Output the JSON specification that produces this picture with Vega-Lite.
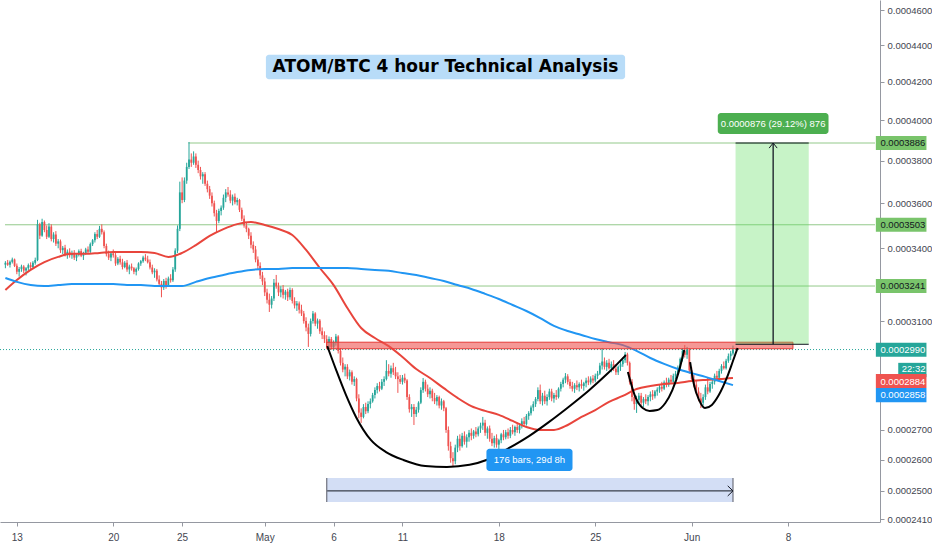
{
"$schema": "https://vega.github.io/schema/vega-lite/v6.json",
"width": 880,
"height": 522,
"autosize": {"type": "none"},
"padding": {"left": 0, "top": 0, "right": 52, "bottom": 28},
"background": "white",
"config": {"view": {"stroke": null}, "font": "Liberation Sans"},
"data": {"values": [
{"t":"2020-04-12T04:00Z","o":0.0003330,"h":0.0003345,"l":0.0003315,"c":0.0003338},
{"t":"2020-04-12T08:00Z","o":0.0003338,"h":0.0003350,"l":0.0003325,"c":0.0003330},
{"t":"2020-04-12T12:00Z","o":0.0003330,"h":0.0003348,"l":0.0003318,"c":0.0003342},
{"t":"2020-04-12T16:00Z","o":0.0003342,"h":0.0003360,"l":0.0003335,"c":0.0003352},
{"t":"2020-04-12T20:00Z","o":0.0003352,"h":0.0003356,"l":0.0003320,"c":0.0003325},
{"t":"2020-04-13T00:00Z","o":0.0003325,"h":0.0003335,"l":0.0003290,"c":0.0003300},
{"t":"2020-04-13T04:00Z","o":0.0003300,"h":0.0003320,"l":0.0003280,"c":0.0003312},
{"t":"2020-04-13T08:00Z","o":0.0003312,"h":0.0003330,"l":0.0003300,"c":0.0003322},
{"t":"2020-04-13T12:00Z","o":0.0003322,"h":0.0003328,"l":0.0003295,"c":0.0003305},
{"t":"2020-04-13T16:00Z","o":0.0003305,"h":0.0003320,"l":0.0003285,"c":0.0003315},
{"t":"2020-04-13T20:00Z","o":0.0003315,"h":0.0003335,"l":0.0003305,"c":0.0003328},
{"t":"2020-04-14T00:00Z","o":0.0003328,"h":0.0003340,"l":0.0003310,"c":0.0003320},
{"t":"2020-04-14T04:00Z","o":0.0003320,"h":0.0003345,"l":0.0003312,"c":0.0003338},
{"t":"2020-04-14T08:00Z","o":0.0003338,"h":0.0003360,"l":0.0003330,"c":0.0003350},
{"t":"2020-04-14T12:00Z","o":0.0003350,"h":0.0003525,"l":0.0003345,"c":0.0003505},
{"t":"2020-04-14T16:00Z","o":0.0003505,"h":0.0003512,"l":0.0003440,"c":0.0003455},
{"t":"2020-04-14T20:00Z","o":0.0003455,"h":0.0003530,"l":0.0003450,"c":0.0003515},
{"t":"2020-04-15T00:00Z","o":0.0003515,"h":0.0003522,"l":0.0003470,"c":0.0003480},
{"t":"2020-04-15T04:00Z","o":0.0003480,"h":0.0003500,"l":0.0003440,"c":0.0003450},
{"t":"2020-04-15T08:00Z","o":0.0003450,"h":0.0003510,"l":0.0003445,"c":0.0003495},
{"t":"2020-04-15T12:00Z","o":0.0003495,"h":0.0003505,"l":0.0003430,"c":0.0003440},
{"t":"2020-04-15T16:00Z","o":0.0003440,"h":0.0003470,"l":0.0003425,"c":0.0003460},
{"t":"2020-04-15T20:00Z","o":0.0003460,"h":0.0003475,"l":0.0003410,"c":0.0003420},
{"t":"2020-04-16T00:00Z","o":0.0003420,"h":0.0003440,"l":0.0003400,"c":0.0003430},
{"t":"2020-04-16T04:00Z","o":0.0003430,"h":0.0003438,"l":0.0003380,"c":0.0003392},
{"t":"2020-04-16T08:00Z","o":0.0003392,"h":0.0003410,"l":0.0003375,"c":0.0003402},
{"t":"2020-04-16T12:00Z","o":0.0003402,"h":0.0003415,"l":0.0003365,"c":0.0003375},
{"t":"2020-04-16T16:00Z","o":0.0003375,"h":0.0003395,"l":0.0003355,"c":0.0003385},
{"t":"2020-04-16T20:00Z","o":0.0003385,"h":0.0003400,"l":0.0003360,"c":0.0003370},
{"t":"2020-04-17T00:00Z","o":0.0003370,"h":0.0003390,"l":0.0003355,"c":0.0003380},
{"t":"2020-04-17T04:00Z","o":0.0003380,"h":0.0003392,"l":0.0003350,"c":0.0003360},
{"t":"2020-04-17T08:00Z","o":0.0003360,"h":0.0003378,"l":0.0003345,"c":0.0003372},
{"t":"2020-04-17T12:00Z","o":0.0003372,"h":0.0003395,"l":0.0003365,"c":0.0003388},
{"t":"2020-04-17T16:00Z","o":0.0003388,"h":0.0003398,"l":0.0003362,"c":0.0003368},
{"t":"2020-04-17T20:00Z","o":0.0003368,"h":0.0003385,"l":0.0003350,"c":0.0003380},
{"t":"2020-04-18T00:00Z","o":0.0003380,"h":0.0003402,"l":0.0003372,"c":0.0003395},
{"t":"2020-04-18T04:00Z","o":0.0003395,"h":0.0003408,"l":0.0003375,"c":0.0003385},
{"t":"2020-04-18T08:00Z","o":0.0003385,"h":0.0003425,"l":0.0003380,"c":0.0003418},
{"t":"2020-04-18T12:00Z","o":0.0003418,"h":0.0003440,"l":0.0003410,"c":0.0003435},
{"t":"2020-04-18T16:00Z","o":0.0003435,"h":0.0003470,"l":0.0003425,"c":0.0003462},
{"t":"2020-04-18T20:00Z","o":0.0003462,"h":0.0003480,"l":0.0003440,"c":0.0003450},
{"t":"2020-04-19T00:00Z","o":0.0003450,"h":0.0003498,"l":0.0003445,"c":0.0003485},
{"t":"2020-04-19T04:00Z","o":0.0003485,"h":0.0003505,"l":0.0003460,"c":0.0003470},
{"t":"2020-04-19T08:00Z","o":0.0003470,"h":0.0003478,"l":0.0003400,"c":0.0003410},
{"t":"2020-04-19T12:00Z","o":0.0003410,"h":0.0003420,"l":0.0003365,"c":0.0003375},
{"t":"2020-04-19T16:00Z","o":0.0003375,"h":0.0003390,"l":0.0003350,"c":0.0003360},
{"t":"2020-04-19T20:00Z","o":0.0003360,"h":0.0003385,"l":0.0003345,"c":0.0003378},
{"t":"2020-04-20T00:00Z","o":0.0003378,"h":0.0003395,"l":0.0003360,"c":0.0003370},
{"t":"2020-04-20T04:00Z","o":0.0003370,"h":0.0003380,"l":0.0003325,"c":0.0003335},
{"t":"2020-04-20T08:00Z","o":0.0003335,"h":0.0003362,"l":0.0003328,"c":0.0003355},
{"t":"2020-04-20T12:00Z","o":0.0003355,"h":0.0003368,"l":0.0003330,"c":0.0003340},
{"t":"2020-04-20T16:00Z","o":0.0003340,"h":0.0003355,"l":0.0003310,"c":0.0003320},
{"t":"2020-04-20T20:00Z","o":0.0003320,"h":0.0003345,"l":0.0003315,"c":0.0003338},
{"t":"2020-04-21T00:00Z","o":0.0003338,"h":0.0003350,"l":0.0003300,"c":0.0003310},
{"t":"2020-04-21T04:00Z","o":0.0003310,"h":0.0003330,"l":0.0003290,"c":0.0003322},
{"t":"2020-04-21T08:00Z","o":0.0003322,"h":0.0003335,"l":0.0003305,"c":0.0003315},
{"t":"2020-04-21T12:00Z","o":0.0003315,"h":0.0003320,"l":0.0003290,"c":0.0003300},
{"t":"2020-04-21T16:00Z","o":0.0003300,"h":0.0003318,"l":0.0003285,"c":0.0003312},
{"t":"2020-04-21T20:00Z","o":0.0003312,"h":0.0003340,"l":0.0003305,"c":0.0003335},
{"t":"2020-04-22T00:00Z","o":0.0003335,"h":0.0003350,"l":0.0003325,"c":0.0003345},
{"t":"2020-04-22T04:00Z","o":0.0003345,"h":0.0003368,"l":0.0003338,"c":0.0003360},
{"t":"2020-04-22T08:00Z","o":0.0003360,"h":0.0003375,"l":0.0003345,"c":0.0003352},
{"t":"2020-04-22T12:00Z","o":0.0003352,"h":0.0003368,"l":0.0003335,"c":0.0003340},
{"t":"2020-04-22T16:00Z","o":0.0003340,"h":0.0003352,"l":0.0003310,"c":0.0003318},
{"t":"2020-04-22T20:00Z","o":0.0003318,"h":0.0003330,"l":0.0003290,"c":0.0003298},
{"t":"2020-04-23T00:00Z","o":0.0003298,"h":0.0003315,"l":0.0003275,"c":0.0003305},
{"t":"2020-04-23T04:00Z","o":0.0003305,"h":0.0003312,"l":0.0003260,"c":0.0003268},
{"t":"2020-04-23T08:00Z","o":0.0003268,"h":0.0003285,"l":0.0003240,"c":0.0003250},
{"t":"2020-04-23T12:00Z","o":0.0003250,"h":0.0003262,"l":0.0003195,"c":0.0003235},
{"t":"2020-04-23T16:00Z","o":0.0003235,"h":0.0003270,"l":0.0003225,"c":0.0003262},
{"t":"2020-04-23T20:00Z","o":0.0003262,"h":0.0003275,"l":0.0003230,"c":0.0003245},
{"t":"2020-04-24T00:00Z","o":0.0003245,"h":0.0003280,"l":0.0003238,"c":0.0003272},
{"t":"2020-04-24T04:00Z","o":0.0003272,"h":0.0003290,"l":0.0003255,"c":0.0003265},
{"t":"2020-04-24T08:00Z","o":0.0003265,"h":0.0003320,"l":0.0003258,"c":0.0003310},
{"t":"2020-04-24T12:00Z","o":0.0003310,"h":0.0003400,"l":0.0003300,"c":0.0003390},
{"t":"2020-04-24T16:00Z","o":0.0003390,"h":0.0003500,"l":0.0003380,"c":0.0003485},
{"t":"2020-04-24T20:00Z","o":0.0003485,"h":0.0003700,"l":0.0003475,"c":0.0003650},
{"t":"2020-04-25T00:00Z","o":0.0003650,"h":0.0003720,"l":0.0003600,"c":0.0003615},
{"t":"2020-04-25T04:00Z","o":0.0003615,"h":0.0003720,"l":0.0003605,"c":0.0003705},
{"t":"2020-04-25T08:00Z","o":0.0003705,"h":0.0003790,"l":0.0003690,"c":0.0003770},
{"t":"2020-04-25T12:00Z","o":0.0003770,"h":0.0003891,"l":0.0003760,"c":0.0003805},
{"t":"2020-04-25T16:00Z","o":0.0003805,"h":0.0003835,"l":0.0003770,"c":0.0003790},
{"t":"2020-04-25T20:00Z","o":0.0003790,"h":0.0003845,"l":0.0003780,"c":0.0003820},
{"t":"2020-04-26T00:00Z","o":0.0003820,"h":0.0003835,"l":0.0003765,"c":0.0003780},
{"t":"2020-04-26T04:00Z","o":0.0003780,"h":0.0003800,"l":0.0003740,"c":0.0003755},
{"t":"2020-04-26T08:00Z","o":0.0003755,"h":0.0003770,"l":0.0003710,"c":0.0003725},
{"t":"2020-04-26T12:00Z","o":0.0003725,"h":0.0003745,"l":0.0003690,"c":0.0003735},
{"t":"2020-04-26T16:00Z","o":0.0003735,"h":0.0003745,"l":0.0003680,"c":0.0003690},
{"t":"2020-04-26T20:00Z","o":0.0003690,"h":0.0003705,"l":0.0003650,"c":0.0003665},
{"t":"2020-04-27T00:00Z","o":0.0003665,"h":0.0003680,"l":0.0003620,"c":0.0003635},
{"t":"2020-04-27T04:00Z","o":0.0003635,"h":0.0003650,"l":0.0003585,"c":0.0003600},
{"t":"2020-04-27T08:00Z","o":0.0003600,"h":0.0003612,"l":0.0003540,"c":0.0003555},
{"t":"2020-04-27T12:00Z","o":0.0003555,"h":0.0003570,"l":0.0003470,"c":0.0003520},
{"t":"2020-04-27T16:00Z","o":0.0003520,"h":0.0003575,"l":0.0003510,"c":0.0003565},
{"t":"2020-04-27T20:00Z","o":0.0003565,"h":0.0003590,"l":0.0003545,"c":0.0003580},
{"t":"2020-04-28T00:00Z","o":0.0003580,"h":0.0003640,"l":0.0003570,"c":0.0003625},
{"t":"2020-04-28T04:00Z","o":0.0003625,"h":0.0003665,"l":0.0003605,"c":0.0003650},
{"t":"2020-04-28T08:00Z","o":0.0003650,"h":0.0003675,"l":0.0003630,"c":0.0003640},
{"t":"2020-04-28T12:00Z","o":0.0003640,"h":0.0003660,"l":0.0003600,"c":0.0003612},
{"t":"2020-04-28T16:00Z","o":0.0003612,"h":0.0003640,"l":0.0003590,"c":0.0003630},
{"t":"2020-04-28T20:00Z","o":0.0003630,"h":0.0003645,"l":0.0003595,"c":0.0003605},
{"t":"2020-04-29T00:00Z","o":0.0003605,"h":0.0003625,"l":0.0003590,"c":0.0003615},
{"t":"2020-04-29T04:00Z","o":0.0003615,"h":0.0003620,"l":0.0003560,"c":0.0003570},
{"t":"2020-04-29T08:00Z","o":0.0003570,"h":0.0003580,"l":0.0003520,"c":0.0003530},
{"t":"2020-04-29T12:00Z","o":0.0003530,"h":0.0003545,"l":0.0003490,"c":0.0003500},
{"t":"2020-04-29T16:00Z","o":0.0003500,"h":0.0003515,"l":0.0003470,"c":0.0003485},
{"t":"2020-04-29T20:00Z","o":0.0003485,"h":0.0003490,"l":0.0003440,"c":0.0003455},
{"t":"2020-04-30T00:00Z","o":0.0003455,"h":0.0003470,"l":0.0003400,"c":0.0003415},
{"t":"2020-04-30T04:00Z","o":0.0003415,"h":0.0003430,"l":0.0003380,"c":0.0003395},
{"t":"2020-04-30T08:00Z","o":0.0003395,"h":0.0003410,"l":0.0003340,"c":0.0003352},
{"t":"2020-04-30T12:00Z","o":0.0003352,"h":0.0003365,"l":0.0003310,"c":0.0003325},
{"t":"2020-04-30T16:00Z","o":0.0003325,"h":0.0003340,"l":0.0003270,"c":0.0003285},
{"t":"2020-04-30T20:00Z","o":0.0003285,"h":0.0003300,"l":0.0003245,"c":0.0003260},
{"t":"2020-05-01T00:00Z","o":0.0003260,"h":0.0003275,"l":0.0003200,"c":0.0003215},
{"t":"2020-05-01T04:00Z","o":0.0003215,"h":0.0003230,"l":0.0003170,"c":0.0003185},
{"t":"2020-05-01T08:00Z","o":0.0003185,"h":0.0003210,"l":0.0003136,"c":0.0003165},
{"t":"2020-05-01T12:00Z","o":0.0003165,"h":0.0003200,"l":0.0003150,"c":0.0003190},
{"t":"2020-05-01T16:00Z","o":0.0003190,"h":0.0003270,"l":0.0003180,"c":0.0003255},
{"t":"2020-05-01T20:00Z","o":0.0003255,"h":0.0003287,"l":0.0003230,"c":0.0003240},
{"t":"2020-05-02T00:00Z","o":0.0003240,"h":0.0003255,"l":0.0003200,"c":0.0003215},
{"t":"2020-05-02T04:00Z","o":0.0003215,"h":0.0003240,"l":0.0003195,"c":0.0003228},
{"t":"2020-05-02T08:00Z","o":0.0003228,"h":0.0003245,"l":0.0003190,"c":0.0003205},
{"t":"2020-05-02T12:00Z","o":0.0003205,"h":0.0003225,"l":0.0003185,"c":0.0003218},
{"t":"2020-05-02T16:00Z","o":0.0003218,"h":0.0003230,"l":0.0003180,"c":0.0003195},
{"t":"2020-05-02T20:00Z","o":0.0003195,"h":0.0003235,"l":0.0003185,"c":0.0003225},
{"t":"2020-05-03T00:00Z","o":0.0003225,"h":0.0003232,"l":0.0003170,"c":0.0003180},
{"t":"2020-05-03T04:00Z","o":0.0003180,"h":0.0003195,"l":0.0003150,"c":0.0003162},
{"t":"2020-05-03T08:00Z","o":0.0003162,"h":0.0003180,"l":0.0003140,"c":0.0003170},
{"t":"2020-05-03T12:00Z","o":0.0003170,"h":0.0003178,"l":0.0003130,"c":0.0003145},
{"t":"2020-05-03T16:00Z","o":0.0003145,"h":0.0003165,"l":0.0003120,"c":0.0003130},
{"t":"2020-05-03T20:00Z","o":0.0003130,"h":0.0003140,"l":0.0003090,"c":0.0003100},
{"t":"2020-05-04T00:00Z","o":0.0003100,"h":0.0003115,"l":0.0003060,"c":0.0003075},
{"t":"2020-05-04T04:00Z","o":0.0003075,"h":0.0003090,"l":0.0003000,"c":0.0003050},
{"t":"2020-05-04T08:00Z","o":0.0003050,"h":0.0003110,"l":0.0003040,"c":0.0003100},
{"t":"2020-05-04T12:00Z","o":0.0003100,"h":0.0003140,"l":0.0003090,"c":0.0003130},
{"t":"2020-05-04T16:00Z","o":0.0003130,"h":0.0003135,"l":0.0003080,"c":0.0003090},
{"t":"2020-05-04T20:00Z","o":0.0003090,"h":0.0003110,"l":0.0003070,"c":0.0003102},
{"t":"2020-05-05T00:00Z","o":0.0003102,"h":0.0003108,"l":0.0003050,"c":0.0003060},
{"t":"2020-05-05T04:00Z","o":0.0003060,"h":0.0003075,"l":0.0003030,"c":0.0003045},
{"t":"2020-05-05T08:00Z","o":0.0003045,"h":0.0003060,"l":0.0003015,"c":0.0003030},
{"t":"2020-05-05T12:00Z","o":0.0003030,"h":0.0003045,"l":0.0003000,"c":0.0003015},
{"t":"2020-05-05T16:00Z","o":0.0003015,"h":0.0003040,"l":0.0002995,"c":0.0003030},
{"t":"2020-05-05T20:00Z","o":0.0003030,"h":0.0003038,"l":0.0002990,"c":0.0003000},
{"t":"2020-05-06T00:00Z","o":0.0003000,"h":0.0003025,"l":0.0002985,"c":0.0003018},
{"t":"2020-05-06T04:00Z","o":0.0003018,"h":0.0003050,"l":0.0003005,"c":0.0003040},
{"t":"2020-05-06T08:00Z","o":0.0003040,"h":0.0003045,"l":0.0002975,"c":0.0002985},
{"t":"2020-05-06T12:00Z","o":0.0002985,"h":0.0002995,"l":0.0002930,"c":0.0002940},
{"t":"2020-05-06T16:00Z","o":0.0002940,"h":0.0002960,"l":0.0002905,"c":0.0002915},
{"t":"2020-05-06T20:00Z","o":0.0002915,"h":0.0002935,"l":0.0002890,"c":0.0002925},
{"t":"2020-05-07T00:00Z","o":0.0002925,"h":0.0002935,"l":0.0002880,"c":0.0002890},
{"t":"2020-05-07T04:00Z","o":0.0002890,"h":0.0002915,"l":0.0002875,"c":0.0002905},
{"t":"2020-05-07T08:00Z","o":0.0002905,"h":0.0002912,"l":0.0002860,"c":0.0002870},
{"t":"2020-05-07T12:00Z","o":0.0002870,"h":0.0002890,"l":0.0002855,"c":0.0002880},
{"t":"2020-05-07T16:00Z","o":0.0002880,"h":0.0002885,"l":0.0002800,"c":0.0002810},
{"t":"2020-05-07T20:00Z","o":0.0002810,"h":0.0002825,"l":0.0002740,"c":0.0002760},
{"t":"2020-05-08T00:00Z","o":0.0002760,"h":0.0002775,"l":0.0002724,"c":0.0002745},
{"t":"2020-05-08T04:00Z","o":0.0002745,"h":0.0002790,"l":0.0002740,"c":0.0002780},
{"t":"2020-05-08T08:00Z","o":0.0002780,"h":0.0002795,"l":0.0002755,"c":0.0002765},
{"t":"2020-05-08T12:00Z","o":0.0002765,"h":0.0002800,"l":0.0002758,"c":0.0002790},
{"t":"2020-05-08T16:00Z","o":0.0002790,"h":0.0002810,"l":0.0002775,"c":0.0002800},
{"t":"2020-05-08T20:00Z","o":0.0002800,"h":0.0002830,"l":0.0002795,"c":0.0002822},
{"t":"2020-05-09T00:00Z","o":0.0002822,"h":0.0002850,"l":0.0002810,"c":0.0002840},
{"t":"2020-05-09T04:00Z","o":0.0002840,"h":0.0002865,"l":0.0002828,"c":0.0002855},
{"t":"2020-05-09T08:00Z","o":0.0002855,"h":0.0002870,"l":0.0002835,"c":0.0002845},
{"t":"2020-05-09T12:00Z","o":0.0002845,"h":0.0002880,"l":0.0002840,"c":0.0002870},
{"t":"2020-05-09T16:00Z","o":0.0002870,"h":0.0002890,"l":0.0002855,"c":0.0002880},
{"t":"2020-05-09T20:00Z","o":0.0002880,"h":0.0002950,"l":0.0002875,"c":0.0002910},
{"t":"2020-05-10T00:00Z","o":0.0002910,"h":0.0002935,"l":0.0002890,"c":0.0002900},
{"t":"2020-05-10T04:00Z","o":0.0002900,"h":0.0002930,"l":0.0002885,"c":0.0002920},
{"t":"2020-05-10T08:00Z","o":0.0002920,"h":0.0002940,"l":0.0002895,"c":0.0002905},
{"t":"2020-05-10T12:00Z","o":0.0002905,"h":0.0002925,"l":0.0002880,"c":0.0002890},
{"t":"2020-05-10T16:00Z","o":0.0002890,"h":0.0002905,"l":0.0002830,"c":0.0002880},
{"t":"2020-05-10T20:00Z","o":0.0002880,"h":0.0002895,"l":0.0002862,"c":0.0002870},
{"t":"2020-05-11T00:00Z","o":0.0002870,"h":0.0002895,"l":0.0002860,"c":0.0002885},
{"t":"2020-05-11T04:00Z","o":0.0002885,"h":0.0002900,"l":0.0002865,"c":0.0002875},
{"t":"2020-05-11T08:00Z","o":0.0002875,"h":0.0002880,"l":0.0002805,"c":0.0002815},
{"t":"2020-05-11T12:00Z","o":0.0002815,"h":0.0002825,"l":0.0002760,"c":0.0002772},
{"t":"2020-05-11T16:00Z","o":0.0002772,"h":0.0002790,"l":0.0002745,"c":0.0002780},
{"t":"2020-05-11T20:00Z","o":0.0002780,"h":0.0002790,"l":0.0002717,"c":0.0002755},
{"t":"2020-05-12T00:00Z","o":0.0002755,"h":0.0002780,"l":0.0002745,"c":0.0002770},
{"t":"2020-05-12T04:00Z","o":0.0002770,"h":0.0002800,"l":0.0002760,"c":0.0002795},
{"t":"2020-05-12T08:00Z","o":0.0002795,"h":0.0002850,"l":0.0002790,"c":0.0002840},
{"t":"2020-05-12T12:00Z","o":0.0002840,"h":0.0002884,"l":0.0002830,"c":0.0002870},
{"t":"2020-05-12T16:00Z","o":0.0002870,"h":0.0002878,"l":0.0002835,"c":0.0002845},
{"t":"2020-05-12T20:00Z","o":0.0002845,"h":0.0002860,"l":0.0002815,"c":0.0002825},
{"t":"2020-05-13T00:00Z","o":0.0002825,"h":0.0002850,"l":0.0002810,"c":0.0002838},
{"t":"2020-05-13T04:00Z","o":0.0002838,"h":0.0002845,"l":0.0002800,"c":0.0002812},
{"t":"2020-05-13T08:00Z","o":0.0002812,"h":0.0002830,"l":0.0002790,"c":0.0002800},
{"t":"2020-05-13T12:00Z","o":0.0002800,"h":0.0002822,"l":0.0002785,"c":0.0002815},
{"t":"2020-05-13T16:00Z","o":0.0002815,"h":0.0002820,"l":0.0002775,"c":0.0002785},
{"t":"2020-05-13T20:00Z","o":0.0002785,"h":0.0002810,"l":0.0002770,"c":0.0002800},
{"t":"2020-05-14T00:00Z","o":0.0002800,"h":0.0002805,"l":0.0002765,"c":0.0002775},
{"t":"2020-05-14T04:00Z","o":0.0002775,"h":0.0002780,"l":0.0002690,"c":0.0002700},
{"t":"2020-05-14T08:00Z","o":0.0002700,"h":0.0002712,"l":0.0002630,"c":0.0002645},
{"t":"2020-05-14T12:00Z","o":0.0002645,"h":0.0002660,"l":0.0002590,"c":0.0002605},
{"t":"2020-05-14T16:00Z","o":0.0002605,"h":0.0002625,"l":0.0002576,"c":0.0002595},
{"t":"2020-05-14T20:00Z","o":0.0002595,"h":0.0002650,"l":0.0002585,"c":0.0002640},
{"t":"2020-05-15T00:00Z","o":0.0002640,"h":0.0002680,"l":0.0002625,"c":0.0002670},
{"t":"2020-05-15T04:00Z","o":0.0002670,"h":0.0002685,"l":0.0002630,"c":0.0002645},
{"t":"2020-05-15T08:00Z","o":0.0002645,"h":0.0002690,"l":0.0002640,"c":0.0002680},
{"t":"2020-05-15T12:00Z","o":0.0002680,"h":0.0002695,"l":0.0002650,"c":0.0002660},
{"t":"2020-05-15T16:00Z","o":0.0002660,"h":0.0002685,"l":0.0002640,"c":0.0002675},
{"t":"2020-05-15T20:00Z","o":0.0002675,"h":0.0002700,"l":0.0002660,"c":0.0002690},
{"t":"2020-05-16T00:00Z","o":0.0002690,"h":0.0002705,"l":0.0002665,"c":0.0002680},
{"t":"2020-05-16T04:00Z","o":0.0002680,"h":0.0002700,"l":0.0002670,"c":0.0002695},
{"t":"2020-05-16T08:00Z","o":0.0002695,"h":0.0002710,"l":0.0002675,"c":0.0002685},
{"t":"2020-05-16T12:00Z","o":0.0002685,"h":0.0002712,"l":0.0002678,"c":0.0002705},
{"t":"2020-05-16T16:00Z","o":0.0002705,"h":0.0002725,"l":0.0002690,"c":0.0002715},
{"t":"2020-05-16T20:00Z","o":0.0002715,"h":0.0002745,"l":0.0002700,"c":0.0002725},
{"t":"2020-05-17T00:00Z","o":0.0002725,"h":0.0002735,"l":0.0002680,"c":0.0002690},
{"t":"2020-05-17T04:00Z","o":0.0002690,"h":0.0002712,"l":0.0002670,"c":0.0002705},
{"t":"2020-05-17T08:00Z","o":0.0002705,"h":0.0002715,"l":0.0002660,"c":0.0002670},
{"t":"2020-05-17T12:00Z","o":0.0002670,"h":0.0002690,"l":0.0002645,"c":0.0002655},
{"t":"2020-05-17T16:00Z","o":0.0002655,"h":0.0002680,"l":0.0002640,"c":0.0002672},
{"t":"2020-05-17T20:00Z","o":0.0002672,"h":0.0002685,"l":0.0002640,"c":0.0002650},
{"t":"2020-05-18T00:00Z","o":0.0002650,"h":0.0002670,"l":0.0002630,"c":0.0002665},
{"t":"2020-05-18T04:00Z","o":0.0002665,"h":0.0002690,"l":0.0002655,"c":0.0002685},
{"t":"2020-05-18T08:00Z","o":0.0002685,"h":0.0002700,"l":0.0002665,"c":0.0002675},
{"t":"2020-05-18T12:00Z","o":0.0002675,"h":0.0002700,"l":0.0002668,"c":0.0002692},
{"t":"2020-05-18T16:00Z","o":0.0002692,"h":0.0002705,"l":0.0002670,"c":0.0002680},
{"t":"2020-05-18T20:00Z","o":0.0002680,"h":0.0002710,"l":0.0002672,"c":0.0002700},
{"t":"2020-05-19T00:00Z","o":0.0002700,"h":0.0002718,"l":0.0002685,"c":0.0002692},
{"t":"2020-05-19T04:00Z","o":0.0002692,"h":0.0002715,"l":0.0002680,"c":0.0002710},
{"t":"2020-05-19T08:00Z","o":0.0002710,"h":0.0002725,"l":0.0002690,"c":0.0002700},
{"t":"2020-05-19T12:00Z","o":0.0002700,"h":0.0002722,"l":0.0002688,"c":0.0002715},
{"t":"2020-05-19T16:00Z","o":0.0002715,"h":0.0002740,"l":0.0002705,"c":0.0002730},
{"t":"2020-05-19T20:00Z","o":0.0002730,"h":0.0002745,"l":0.0002710,"c":0.0002720},
{"t":"2020-05-20T00:00Z","o":0.0002720,"h":0.0002755,"l":0.0002715,"c":0.0002748},
{"t":"2020-05-20T04:00Z","o":0.0002748,"h":0.0002765,"l":0.0002735,"c":0.0002758},
{"t":"2020-05-20T08:00Z","o":0.0002758,"h":0.0002785,"l":0.0002750,"c":0.0002778},
{"t":"2020-05-20T12:00Z","o":0.0002778,"h":0.0002800,"l":0.0002765,"c":0.0002790},
{"t":"2020-05-20T16:00Z","o":0.0002790,"h":0.0002815,"l":0.0002780,"c":0.0002808},
{"t":"2020-05-20T20:00Z","o":0.0002808,"h":0.0002850,"l":0.0002800,"c":0.0002840},
{"t":"2020-05-21T00:00Z","o":0.0002840,"h":0.0002860,"l":0.0002790,"c":0.0002800},
{"t":"2020-05-21T04:00Z","o":0.0002800,"h":0.0002830,"l":0.0002785,"c":0.0002820},
{"t":"2020-05-21T08:00Z","o":0.0002820,"h":0.0002838,"l":0.0002790,"c":0.0002800},
{"t":"2020-05-21T12:00Z","o":0.0002800,"h":0.0002825,"l":0.0002785,"c":0.0002815},
{"t":"2020-05-21T16:00Z","o":0.0002815,"h":0.0002845,"l":0.0002805,"c":0.0002835},
{"t":"2020-05-21T20:00Z","o":0.0002835,"h":0.0002845,"l":0.0002800,"c":0.0002810},
{"t":"2020-05-22T00:00Z","o":0.0002810,"h":0.0002830,"l":0.0002795,"c":0.0002822},
{"t":"2020-05-22T04:00Z","o":0.0002822,"h":0.0002840,"l":0.0002805,"c":0.0002815},
{"t":"2020-05-22T08:00Z","o":0.0002815,"h":0.0002850,"l":0.0002810,"c":0.0002845},
{"t":"2020-05-22T12:00Z","o":0.0002845,"h":0.0002870,"l":0.0002835,"c":0.0002862},
{"t":"2020-05-22T16:00Z","o":0.0002862,"h":0.0002885,"l":0.0002850,"c":0.0002878},
{"t":"2020-05-22T20:00Z","o":0.0002878,"h":0.0002902,"l":0.0002865,"c":0.0002890},
{"t":"2020-05-23T00:00Z","o":0.0002890,"h":0.0002898,"l":0.0002860,"c":0.0002870},
{"t":"2020-05-23T04:00Z","o":0.0002870,"h":0.0002880,"l":0.0002845,"c":0.0002855},
{"t":"2020-05-23T08:00Z","o":0.0002855,"h":0.0002870,"l":0.0002835,"c":0.0002845},
{"t":"2020-05-23T12:00Z","o":0.0002845,"h":0.0002865,"l":0.0002830,"c":0.0002858},
{"t":"2020-05-23T16:00Z","o":0.0002858,"h":0.0002875,"l":0.0002840,"c":0.0002850},
{"t":"2020-05-23T20:00Z","o":0.0002850,"h":0.0002868,"l":0.0002835,"c":0.0002862},
{"t":"2020-05-24T00:00Z","o":0.0002862,"h":0.0002878,"l":0.0002845,"c":0.0002855},
{"t":"2020-05-24T04:00Z","o":0.0002855,"h":0.0002870,"l":0.0002838,"c":0.0002865},
{"t":"2020-05-24T08:00Z","o":0.0002865,"h":0.0002885,"l":0.0002850,"c":0.0002875},
{"t":"2020-05-24T12:00Z","o":0.0002875,"h":0.0002890,"l":0.0002858,"c":0.0002868},
{"t":"2020-05-24T16:00Z","o":0.0002868,"h":0.0002890,"l":0.0002860,"c":0.0002882},
{"t":"2020-05-24T20:00Z","o":0.0002882,"h":0.0002895,"l":0.0002865,"c":0.0002875},
{"t":"2020-05-25T00:00Z","o":0.0002875,"h":0.0002900,"l":0.0002868,"c":0.0002892},
{"t":"2020-05-25T04:00Z","o":0.0002892,"h":0.0002910,"l":0.0002880,"c":0.0002900},
{"t":"2020-05-25T08:00Z","o":0.0002900,"h":0.0002940,"l":0.0002895,"c":0.0002930},
{"t":"2020-05-25T12:00Z","o":0.0002930,"h":0.0002996,"l":0.0002915,"c":0.0002945},
{"t":"2020-05-25T16:00Z","o":0.0002945,"h":0.0002960,"l":0.0002915,"c":0.0002925},
{"t":"2020-05-25T20:00Z","o":0.0002925,"h":0.0002950,"l":0.0002910,"c":0.0002940},
{"t":"2020-05-26T00:00Z","o":0.0002940,"h":0.0002955,"l":0.0002915,"c":0.0002920},
{"t":"2020-05-26T04:00Z","o":0.0002920,"h":0.0002945,"l":0.0002905,"c":0.0002935},
{"t":"2020-05-26T08:00Z","o":0.0002935,"h":0.0002950,"l":0.0002910,"c":0.0002918},
{"t":"2020-05-26T12:00Z","o":0.0002918,"h":0.0002935,"l":0.0002895,"c":0.0002905},
{"t":"2020-05-26T16:00Z","o":0.0002905,"h":0.0002930,"l":0.0002895,"c":0.0002925},
{"t":"2020-05-26T20:00Z","o":0.0002925,"h":0.0002945,"l":0.0002910,"c":0.0002935},
{"t":"2020-05-27T00:00Z","o":0.0002935,"h":0.0002960,"l":0.0002925,"c":0.0002950},
{"t":"2020-05-27T04:00Z","o":0.0002950,"h":0.0002981,"l":0.0002940,"c":0.0002972},
{"t":"2020-05-27T08:00Z","o":0.0002972,"h":0.0002978,"l":0.0002930,"c":0.0002940},
{"t":"2020-05-27T12:00Z","o":0.0002940,"h":0.0002945,"l":0.0002860,"c":0.0002870},
{"t":"2020-05-27T16:00Z","o":0.0002870,"h":0.0002880,"l":0.0002800,"c":0.0002815},
{"t":"2020-05-27T20:00Z","o":0.0002815,"h":0.0002830,"l":0.0002770,"c":0.0002790},
{"t":"2020-05-28T00:00Z","o":0.0002790,"h":0.0002820,"l":0.0002759,"c":0.0002805},
{"t":"2020-05-28T04:00Z","o":0.0002805,"h":0.0002830,"l":0.0002790,"c":0.0002820},
{"t":"2020-05-28T08:00Z","o":0.0002820,"h":0.0002830,"l":0.0002785,"c":0.0002795},
{"t":"2020-05-28T12:00Z","o":0.0002795,"h":0.0002815,"l":0.0002780,"c":0.0002808},
{"t":"2020-05-28T16:00Z","o":0.0002808,"h":0.0002825,"l":0.0002790,"c":0.0002800},
{"t":"2020-05-28T20:00Z","o":0.0002800,"h":0.0002822,"l":0.0002785,"c":0.0002815},
{"t":"2020-05-29T00:00Z","o":0.0002815,"h":0.0002835,"l":0.0002800,"c":0.0002825},
{"t":"2020-05-29T04:00Z","o":0.0002825,"h":0.0002840,"l":0.0002805,"c":0.0002818},
{"t":"2020-05-29T08:00Z","o":0.0002818,"h":0.0002840,"l":0.0002810,"c":0.0002835},
{"t":"2020-05-29T12:00Z","o":0.0002835,"h":0.0002850,"l":0.0002820,"c":0.0002842},
{"t":"2020-05-29T16:00Z","o":0.0002842,"h":0.0002860,"l":0.0002830,"c":0.0002852},
{"t":"2020-05-29T20:00Z","o":0.0002852,"h":0.0002870,"l":0.0002835,"c":0.0002845},
{"t":"2020-05-30T00:00Z","o":0.0002845,"h":0.0002875,"l":0.0002840,"c":0.0002868},
{"t":"2020-05-30T04:00Z","o":0.0002868,"h":0.0002885,"l":0.0002850,"c":0.0002860},
{"t":"2020-05-30T08:00Z","o":0.0002860,"h":0.0002885,"l":0.0002852,"c":0.0002878},
{"t":"2020-05-30T12:00Z","o":0.0002878,"h":0.0002895,"l":0.0002862,"c":0.0002870},
{"t":"2020-05-30T16:00Z","o":0.0002870,"h":0.0002900,"l":0.0002865,"c":0.0002892},
{"t":"2020-05-30T20:00Z","o":0.0002892,"h":0.0002910,"l":0.0002880,"c":0.0002900},
{"t":"2020-05-31T00:00Z","o":0.0002900,"h":0.0002930,"l":0.0002895,"c":0.0002922},
{"t":"2020-05-31T04:00Z","o":0.0002922,"h":0.0002960,"l":0.0002915,"c":0.0002955},
{"t":"2020-05-31T08:00Z","o":0.0002955,"h":0.0002995,"l":0.0002945,"c":0.0002985},
{"t":"2020-05-31T12:00Z","o":0.0002985,"h":0.0003007,"l":0.0002960,"c":0.0002970},
{"t":"2020-05-31T16:00Z","o":0.0002970,"h":0.0003000,"l":0.0002955,"c":0.0002990},
{"t":"2020-05-31T20:00Z","o":0.0002990,"h":0.0002995,"l":0.0002900,"c":0.0002912},
{"t":"2020-06-01T00:00Z","o":0.0002912,"h":0.0002925,"l":0.0002870,"c":0.0002880},
{"t":"2020-06-01T04:00Z","o":0.0002880,"h":0.0002895,"l":0.0002850,"c":0.0002860},
{"t":"2020-06-01T08:00Z","o":0.0002860,"h":0.0002875,"l":0.0002825,"c":0.0002835},
{"t":"2020-06-01T12:00Z","o":0.0002835,"h":0.0002850,"l":0.0002800,"c":0.0002810},
{"t":"2020-06-01T16:00Z","o":0.0002810,"h":0.0002830,"l":0.0002776,"c":0.0002795},
{"t":"2020-06-01T20:00Z","o":0.0002795,"h":0.0002825,"l":0.0002785,"c":0.0002815},
{"t":"2020-06-02T00:00Z","o":0.0002815,"h":0.0002860,"l":0.0002805,"c":0.0002850},
{"t":"2020-06-02T04:00Z","o":0.0002850,"h":0.0002885,"l":0.0002825,"c":0.0002835},
{"t":"2020-06-02T08:00Z","o":0.0002835,"h":0.0002870,"l":0.0002830,"c":0.0002862},
{"t":"2020-06-02T12:00Z","o":0.0002862,"h":0.0002880,"l":0.0002845,"c":0.0002870},
{"t":"2020-06-02T16:00Z","o":0.0002870,"h":0.0002900,"l":0.0002860,"c":0.0002892},
{"t":"2020-06-02T20:00Z","o":0.0002892,"h":0.0002910,"l":0.0002875,"c":0.0002885},
{"t":"2020-06-03T00:00Z","o":0.0002885,"h":0.0002918,"l":0.0002880,"c":0.0002910},
{"t":"2020-06-03T04:00Z","o":0.0002910,"h":0.0002935,"l":0.0002900,"c":0.0002928},
{"t":"2020-06-03T08:00Z","o":0.0002928,"h":0.0002945,"l":0.0002915,"c":0.0002920},
{"t":"2020-06-03T12:00Z","o":0.0002920,"h":0.0002955,"l":0.0002915,"c":0.0002948},
{"t":"2020-06-03T16:00Z","o":0.0002948,"h":0.0002975,"l":0.0002940,"c":0.0002965},
{"t":"2020-06-03T20:00Z","o":0.0002965,"h":0.0002985,"l":0.0002950,"c":0.0002975},
{"t":"2020-06-04T00:00Z","o":0.0002975,"h":0.0003005,"l":0.0002968,"c":0.0002990}
]},
"layer": [
{
 "data": {"values": [
  {"t1":"2020-04-25T11:00Z","t2":"2020-06-14T07:30Z","p":0.0003886},
  {"t1":"2020-04-12T03:20Z","t2":"2020-06-14T07:30Z","p":0.0003503},
  {"t1":"2020-04-24T03:00Z","t2":"2020-06-14T07:30Z","p":0.0003241}
 ]},
 "mark": {"type": "rule", "color": "#93c98a", "strokeWidth": 1},
 "encoding": {
  "x": {"field": "t1", "type": "temporal", "title": null,
   "scale": {"type": "utc", "domain": [{"year":2020,"month":4,"date":12,"hours":3,"minutes":20,"utc":true},{"year":2020,"month":6,"date":14,"hours":7,"minutes":30,"utc":true}]},
   "axis": {"orient": "bottom", "title": null, "grid": false,
    "values": [{"year":2020,"month":4,"date":13,"utc":true},{"year":2020,"month":4,"date":20,"utc":true},{"year":2020,"month":4,"date":25,"utc":true},{"year":2020,"month":5,"date":1,"utc":true},{"year":2020,"month":5,"date":6,"utc":true},{"year":2020,"month":5,"date":11,"utc":true},{"year":2020,"month":5,"date":18,"utc":true},{"year":2020,"month":5,"date":25,"utc":true},{"year":2020,"month":6,"date":1,"utc":true},{"year":2020,"month":6,"date":8,"utc":true}],
    "labelExpr": "utcdate(datum.value) == 1 ? utcFormat(datum.value, '%b') : utcFormat(datum.value, '%-d')",
    "domainColor": "#9598a1", "tickColor": "#9598a1", "tickSize": 4, "labelPadding": 6,
    "labelColor": "#434651", "labelFont": "Liberation Sans", "labelFontSize": 10,
    "labelFlush": false, "labelOverlap": false}},
  "x2": {"field": "t2"},
  "y": {"field": "p", "type": "quantitative", "title": null,
   "scale": {"type": "log", "domain": [0.00024023, 0.00046593], "nice": false},
   "axis": {"orient": "right", "title": null, "grid": false,
    "values": [0.00046, 0.00044, 0.00042, 0.0004, 0.00038, 0.00036, 0.00034, 0.00031, 0.00027, 0.00026, 0.00025, 0.000241],
    "format": ".7f", "domainColor": "#9598a1", "tickColor": "#9598a1", "tickSize": 4, "labelPadding": 3,
    "labelColor": "#434651", "labelFont": "Liberation Sans", "labelFontSize": 9.5,
    "labelFlush": false, "labelOverlap": false}}
 }
},
{
 "data": {"values": [{"p": 0.000299}]},
 "mark": {"type": "rule", "color": "#26a69a", "strokeWidth": 1, "strokeDash": [1, 2]},
 "encoding": {"y": {"field": "p", "type": "quantitative", "title": null}}
},
{
 "mark": {"type": "rule", "strokeWidth": 1},
 "encoding": {
  "x": {"field": "t", "type": "temporal", "title": null},
  "y": {"field": "l", "type": "quantitative", "title": null},
  "y2": {"field": "h"},
  "color": {"condition": {"test": "datum.c >= datum.o", "value": "#26a69a"}, "value": "#ef5350"}
 }
},
{
 "mark": {"type": "bar", "width": 1.8},
 "encoding": {
  "x": {"field": "t", "type": "temporal", "title": null},
  "y": {"field": "o", "type": "quantitative", "title": null},
  "y2": {"field": "c"},
  "color": {"condition": {"test": "datum.c >= datum.o", "value": "#26a69a"}, "value": "#ef5350"}
 }
},
{
 "data": {"values": [
  {"ma":"fast","t":"2020-04-12T04:00Z","v":0.0003225},{"ma":"fast","t":"2020-04-13T00:00Z","v":0.0003266},{"ma":"fast","t":"2020-04-14T00:00Z","v":0.0003308},{"ma":"fast","t":"2020-04-15T00:00Z","v":0.0003341},{"ma":"fast","t":"2020-04-16T00:00Z","v":0.0003363},{"ma":"fast","t":"2020-04-17T00:00Z","v":0.0003376},{"ma":"fast","t":"2020-04-18T00:00Z","v":0.0003376},{"ma":"fast","t":"2020-04-19T00:00Z","v":0.000338},{"ma":"fast","t":"2020-04-20T00:00Z","v":0.0003384},{"ma":"fast","t":"2020-04-21T00:00Z","v":0.0003384},{"ma":"fast","t":"2020-04-22T00:00Z","v":0.0003384},{"ma":"fast","t":"2020-04-23T00:00Z","v":0.000338},{"ma":"fast","t":"2020-04-24T00:00Z","v":0.0003363},{"ma":"fast","t":"2020-04-25T00:00Z","v":0.000338},{"ma":"fast","t":"2020-04-26T00:00Z","v":0.0003414},{"ma":"fast","t":"2020-04-27T00:00Z","v":0.0003454},{"ma":"fast","t":"2020-04-28T00:00Z","v":0.0003484},{"ma":"fast","t":"2020-04-29T00:00Z","v":0.0003506},{"ma":"fast","t":"2020-04-30T00:00Z","v":0.0003515},{"ma":"fast","t":"2020-05-01T00:00Z","v":0.0003502},{"ma":"fast","t":"2020-05-02T00:00Z","v":0.0003484},{"ma":"fast","t":"2020-05-03T00:00Z","v":0.0003458},{"ma":"fast","t":"2020-05-04T00:00Z","v":0.0003393},{"ma":"fast","t":"2020-05-05T00:00Z","v":0.0003316},{"ma":"fast","t":"2020-05-06T00:00Z","v":0.0003245},{"ma":"fast","t":"2020-05-07T00:00Z","v":0.0003152},{"ma":"fast","t":"2020-05-08T00:00Z","v":0.0003073},{"ma":"fast","t":"2020-05-09T00:00Z","v":0.0003034},{"ma":"fast","t":"2020-05-10T00:00Z","v":0.0003003},{"ma":"fast","t":"2020-05-11T00:00Z","v":0.0002962},{"ma":"fast","t":"2020-05-12T00:00Z","v":0.0002917},{"ma":"fast","t":"2020-05-13T00:00Z","v":0.0002884},{"ma":"fast","t":"2020-05-14T00:00Z","v":0.0002847},{"ma":"fast","t":"2020-05-15T00:00Z","v":0.0002812},{"ma":"fast","t":"2020-05-16T00:00Z","v":0.0002783},{"ma":"fast","t":"2020-05-17T00:00Z","v":0.0002766},{"ma":"fast","t":"2020-05-18T00:00Z","v":0.0002752},{"ma":"fast","t":"2020-05-19T00:00Z","v":0.0002731},{"ma":"fast","t":"2020-05-20T00:00Z","v":0.000271},{"ma":"fast","t":"2020-05-21T00:00Z","v":0.00027},{"ma":"fast","t":"2020-05-22T00:00Z","v":0.00027},{"ma":"fast","t":"2020-05-23T00:00Z","v":0.0002717},{"ma":"fast","t":"2020-05-24T00:00Z","v":0.0002745},{"ma":"fast","t":"2020-05-25T00:00Z","v":0.0002769},{"ma":"fast","t":"2020-05-26T00:00Z","v":0.0002798},{"ma":"fast","t":"2020-05-27T00:00Z","v":0.0002819},{"ma":"fast","t":"2020-05-28T00:00Z","v":0.0002844},{"ma":"fast","t":"2020-05-29T00:00Z","v":0.0002855},{"ma":"fast","t":"2020-05-30T00:00Z","v":0.0002862},{"ma":"fast","t":"2020-05-31T00:00Z","v":0.0002866},{"ma":"fast","t":"2020-06-01T00:00Z","v":0.0002873},{"ma":"fast","t":"2020-06-02T00:00Z","v":0.0002877},{"ma":"fast","t":"2020-06-03T00:00Z","v":0.000288},{"ma":"fast","t":"2020-06-04T00:00Z","v":0.0002884},
  {"ma":"slow","t":"2020-04-12T04:00Z","v":0.0003274},{"ma":"slow","t":"2020-04-13T00:00Z","v":0.0003258},{"ma":"slow","t":"2020-04-14T00:00Z","v":0.0003245},{"ma":"slow","t":"2020-04-15T00:00Z","v":0.0003241},{"ma":"slow","t":"2020-04-16T00:00Z","v":0.0003245},{"ma":"slow","t":"2020-04-17T00:00Z","v":0.0003249},{"ma":"slow","t":"2020-04-18T00:00Z","v":0.0003249},{"ma":"slow","t":"2020-04-19T00:00Z","v":0.0003249},{"ma":"slow","t":"2020-04-20T00:00Z","v":0.0003249},{"ma":"slow","t":"2020-04-21T00:00Z","v":0.0003245},{"ma":"slow","t":"2020-04-22T00:00Z","v":0.0003245},{"ma":"slow","t":"2020-04-23T00:00Z","v":0.0003241},{"ma":"slow","t":"2020-04-24T00:00Z","v":0.0003241},{"ma":"slow","t":"2020-04-25T00:00Z","v":0.0003241},{"ma":"slow","t":"2020-04-26T00:00Z","v":0.0003258},{"ma":"slow","t":"2020-04-27T00:00Z","v":0.0003274},{"ma":"slow","t":"2020-04-28T00:00Z","v":0.0003287},{"ma":"slow","t":"2020-04-29T00:00Z","v":0.0003299},{"ma":"slow","t":"2020-04-30T00:00Z","v":0.0003308},{"ma":"slow","t":"2020-05-01T00:00Z","v":0.0003312},{"ma":"slow","t":"2020-05-02T00:00Z","v":0.0003312},{"ma":"slow","t":"2020-05-03T00:00Z","v":0.0003316},{"ma":"slow","t":"2020-05-04T00:00Z","v":0.0003316},{"ma":"slow","t":"2020-05-05T00:00Z","v":0.0003316},{"ma":"slow","t":"2020-05-06T00:00Z","v":0.0003316},{"ma":"slow","t":"2020-05-07T00:00Z","v":0.0003316},{"ma":"slow","t":"2020-05-08T00:00Z","v":0.0003312},{"ma":"slow","t":"2020-05-09T00:00Z","v":0.0003308},{"ma":"slow","t":"2020-05-10T00:00Z","v":0.0003304},{"ma":"slow","t":"2020-05-11T00:00Z","v":0.0003295},{"ma":"slow","t":"2020-05-12T00:00Z","v":0.0003287},{"ma":"slow","t":"2020-05-13T00:00Z","v":0.0003274},{"ma":"slow","t":"2020-05-14T00:00Z","v":0.0003262},{"ma":"slow","t":"2020-05-15T00:00Z","v":0.0003245},{"ma":"slow","t":"2020-05-16T00:00Z","v":0.0003229},{"ma":"slow","t":"2020-05-17T00:00Z","v":0.0003209},{"ma":"slow","t":"2020-05-18T00:00Z","v":0.0003188},{"ma":"slow","t":"2020-05-19T00:00Z","v":0.0003164},{"ma":"slow","t":"2020-05-20T00:00Z","v":0.000314},{"ma":"slow","t":"2020-05-21T00:00Z","v":0.0003112},{"ma":"slow","t":"2020-05-22T00:00Z","v":0.0003081},{"ma":"slow","t":"2020-05-23T00:00Z","v":0.0003061},{"ma":"slow","t":"2020-05-24T00:00Z","v":0.0003046},{"ma":"slow","t":"2020-05-25T00:00Z","v":0.000303},{"ma":"slow","t":"2020-05-26T00:00Z","v":0.0003018},{"ma":"slow","t":"2020-05-27T00:00Z","v":0.0003007},{"ma":"slow","t":"2020-05-28T00:00Z","v":0.0002985},{"ma":"slow","t":"2020-05-29T00:00Z","v":0.0002958},{"ma":"slow","t":"2020-05-30T00:00Z","v":0.0002936},{"ma":"slow","t":"2020-05-31T00:00Z","v":0.0002917},{"ma":"slow","t":"2020-06-01T00:00Z","v":0.0002902},{"ma":"slow","t":"2020-06-02T00:00Z","v":0.0002888},{"ma":"slow","t":"2020-06-03T00:00Z","v":0.0002873},{"ma":"slow","t":"2020-06-04T00:00Z","v":0.0002858}
 ]},
 "mark": {"type": "line", "strokeWidth": 2, "interpolate": "monotone"},
 "encoding": {
  "x": {"field": "t", "type": "temporal", "title": null},
  "y": {"field": "v", "type": "quantitative", "title": null},
  "detail": {"field": "ma"},
  "color": {"condition": {"test": "datum.ma == 'fast'", "value": "#e8453c"}, "value": "#2196f3"}
 }
},
{
 "data": {"values": [
  {"kind":"band","t1":"2020-05-05T12:00Z","t2":"2020-06-08T08:30Z","p1":0.0002993,"p2":0.0003018},
  {"kind":"target","t1":"2020-06-04T04:30Z","t2":"2020-06-09T12:00Z","p1":0.000301,"p2":0.0003886},
  {"kind":"range","t1":"2020-05-05T12:00Z","t2":"2020-06-04T00:00Z","p1":0.0002464,"p2":0.000254}
 ]},
 "mark": {"type": "rect", "stroke": "#e53935", "strokeWidth": 1},
 "encoding": {
  "x": {"field": "t1", "type": "temporal", "title": null},
  "x2": {"field": "t2"},
  "y": {"field": "p1", "type": "quantitative", "title": null},
  "y2": {"field": "p2"},
  "fill": {"condition": [{"test": "datum.kind == 'band'", "value": "#ef5350"}, {"test": "datum.kind == 'target'", "value": "#5fdc5f"}], "value": "#d3def5"},
  "fillOpacity": {"condition": [{"test": "datum.kind == 'band'", "value": 0.6}, {"test": "datum.kind == 'target'", "value": 0.35}], "value": 1},
  "strokeOpacity": {"condition": {"test": "datum.kind == 'band'", "value": 1}, "value": 0}
 }
},
{
 "data": {"values": [
  {"g":"cup","t":"2020-05-05T13:00Z","p":0.0003003},{"g":"cup","t":"2020-05-06T04:30Z","p":0.0002913},{"g":"cup","t":"2020-05-06T21:40Z","p":0.0002822},{"g":"cup","t":"2020-05-07T15:00Z","p":0.0002745},{"g":"cup","t":"2020-05-08T16:50Z","p":0.0002666},{"g":"cup","t":"2020-05-09T18:40Z","p":0.0002626},{"g":"cup","t":"2020-05-11T01:40Z","p":0.0002599},{"g":"cup","t":"2020-05-12T15:40Z","p":0.0002579},{"g":"cup","t":"2020-05-14T05:30Z","p":0.0002576},{"g":"cup","t":"2020-05-15T21:00Z","p":0.0002583},{"g":"cup","t":"2020-05-17T02:20Z","p":0.0002599},{"g":"cup","t":"2020-05-18T18:00Z","p":0.0002639},{"g":"cup","t":"2020-05-20T04:30Z","p":0.0002679},{"g":"cup","t":"2020-05-21T15:00Z","p":0.0002727},{"g":"cup","t":"2020-05-23T01:30Z","p":0.000278},{"g":"cup","t":"2020-05-24T11:50Z","p":0.0002837},{"g":"cup","t":"2020-05-25T22:20Z","p":0.0002902},{"g":"cup","t":"2020-05-27T05:20Z","p":0.0002969},
  {"g":"handle1","t":"2020-05-27T08:50Z","p":0.0002906},{"g":"handle1","t":"2020-05-27T22:30Z","p":0.0002812},{"g":"handle1","t":"2020-05-28T10:40Z","p":0.0002776},{"g":"handle1","t":"2020-05-28T22:40Z","p":0.0002766},{"g":"handle1","t":"2020-05-29T12:20Z","p":0.0002769},{"g":"handle1","t":"2020-05-30T02:10Z","p":0.0002794},{"g":"handle1","t":"2020-05-30T14:20Z","p":0.000284},{"g":"handle1","t":"2020-05-31T02:20Z","p":0.0002913},{"g":"handle1","t":"2020-05-31T11:00Z","p":0.0002988},
  {"g":"handle2","t":"2020-05-31T21:20Z","p":0.0002943},{"g":"handle2","t":"2020-06-01T04:10Z","p":0.0002858},{"g":"handle2","t":"2020-06-01T12:50Z","p":0.0002805},{"g":"handle2","t":"2020-06-01T23:10Z","p":0.0002776},{"g":"handle2","t":"2020-06-02T11:10Z","p":0.0002787},{"g":"handle2","t":"2020-06-02T23:20Z","p":0.0002822},{"g":"handle2","t":"2020-06-03T13:10Z","p":0.0002884},{"g":"handle2","t":"2020-06-03T23:20Z","p":0.0002943},{"g":"handle2","t":"2020-06-04T08:00Z","p":0.0002996}
 ]},
 "mark": {"type": "line", "color": "#000000", "strokeWidth": 2, "interpolate": "monotone"},
 "encoding": {
  "x": {"field": "t", "type": "temporal", "title": null},
  "y": {"field": "p", "type": "quantitative", "title": null},
  "detail": {"field": "g"}
 }
},
{
 "data": {"values": [
  {"t1":"2020-06-04T04:30Z","t2":"2020-06-09T12:00Z","p":0.000301},
  {"t1":"2020-06-04T04:30Z","t2":"2020-06-09T12:00Z","p":0.0003886},
  {"t1":"2020-05-05T12:00Z","t2":"2020-06-04T00:00Z","p":0.0002499}
 ]},
 "mark": {"type": "rule", "color": "#131722", "strokeWidth": 1},
 "encoding": {
  "x": {"field": "t1", "type": "temporal", "title": null},
  "x2": {"field": "t2"},
  "y": {"field": "p", "type": "quantitative", "title": null}
 }
},
{
 "data": {"values": [
  {"kind":"arrow","t":"2020-06-06T22:00Z","p1":0.000301,"p2":0.0003886},
  {"kind":"end","t":"2020-05-05T12:00Z","p1":0.0002464,"p2":0.000254},
  {"kind":"end","t":"2020-06-04T00:00Z","p1":0.0002464,"p2":0.000254}
 ]},
 "mark": {"type": "rule", "strokeWidth": 1.3},
 "encoding": {
  "x": {"field": "t", "type": "temporal", "title": null},
  "y": {"field": "p1", "type": "quantitative", "title": null},
  "y2": {"field": "p2"},
  "color": {"condition": {"test": "datum.kind == 'arrow'", "value": "#131722"}, "value": "#787b86"}
 }
},
{
 "data": {"values": [
  {"g":"up","k":0,"t":"2020-06-06T15:00Z","p":0.0003861},{"g":"up","k":1,"t":"2020-06-06T22:00Z","p":0.0003886},{"g":"up","k":2,"t":"2020-06-07T05:00Z","p":0.0003861},
  {"g":"right","k":0,"t":"2020-06-03T14:50Z","p":0.0002515},{"g":"right","k":1,"t":"2020-06-04T00:00Z","p":0.0002499},{"g":"right","k":2,"t":"2020-06-03T14:50Z","p":0.0002483}
 ]},
 "mark": {"type": "line", "color": "#131722", "strokeWidth": 1},
 "encoding": {
  "x": {"field": "t", "type": "temporal", "title": null},
  "y": {"field": "p", "type": "quantitative", "title": null},
  "detail": {"field": "g"},
  "order": {"field": "k"}
 }
},
{
 "data": {"values": [
  {"kind":"measure","t1":"2020-06-02T21:30Z","t2":"2020-06-10T22:30Z","p1":0.0003931,"p2":0.0004037},
  {"kind":"range","t1":"2020-05-17T02:20Z","t2":"2020-05-23T08:20Z","p1":0.0002563,"p2":0.0002636},
  {"kind":"title","t1":"2020-05-01T02:00Z","t2":"2020-05-27T04:00Z","p1":0.0004214,"p2":0.0004347}
 ]},
 "mark": {"type": "rect", "cornerRadius": 3},
 "encoding": {
  "x": {"field": "t1", "type": "temporal", "title": null},
  "x2": {"field": "t2"},
  "y": {"field": "p1", "type": "quantitative", "title": null},
  "y2": {"field": "p2"},
  "color": {"condition": [{"test": "datum.kind == 'measure'", "value": "#4caf50"}, {"test": "datum.kind == 'range'", "value": "#2196f3"}], "value": "#b8dcf8"}
 }
},
{
 "data": {"values": [
  {"t":"2020-06-06T22:00Z","p":0.0003983,"txt":"0.0000876 (29.12%) 876"},
  {"t":"2020-05-20T05:20Z","p":0.0002599,"txt":"176 bars, 29d 8h"}
 ]},
 "mark": {"type": "text", "color": "#ffffff", "align": "center", "baseline": "middle", "font": "Liberation Sans", "fontSize": 9.5},
 "encoding": {
  "x": {"field": "t", "type": "temporal", "title": null},
  "y": {"field": "p", "type": "quantitative", "title": null},
  "text": {"field": "txt"}
 }
},
{
 "data": {"values": [{"t":"2020-05-14T03:00Z","p":0.0004282,"txt":"ATOM/BTC 4 hour Technical Analysis"}]},
 "mark": {"type": "text", "color": "#000000", "align": "center", "baseline": "middle", "font": "DejaVu Sans", "fontWeight": "bold", "fontSize": 17},
 "encoding": {
  "x": {"field": "t", "type": "temporal", "title": null},
  "y": {"field": "p", "type": "quantitative", "title": null},
  "text": {"field": "txt"}
 }
},
{
 "data": {"values": [
  {"kind":"level","t1":"2020-06-14T09:00Z","t2":"2020-06-18T01:10Z","p1":0.0003852,"p2":0.0003921},
  {"kind":"level","t1":"2020-06-14T09:00Z","t2":"2020-06-18T01:10Z","p1":0.0003472,"p2":0.0003534},
  {"kind":"level","t1":"2020-06-14T09:00Z","t2":"2020-06-18T01:10Z","p1":0.0003212,"p2":0.000327},
  {"kind":"last","t1":"2020-06-14T09:00Z","t2":"2020-06-18T01:10Z","p1":0.0002963,"p2":0.0003016},
  {"kind":"last","t1":"2020-06-16T00:00Z","t2":"2020-06-18T01:10Z","p1":0.0002887,"p2":0.000294},
  {"kind":"fast","t1":"2020-06-14T09:00Z","t2":"2020-06-18T01:10Z","p1":0.0002848,"p2":0.0002899},
  {"kind":"slow","t1":"2020-06-14T09:00Z","t2":"2020-06-18T01:10Z","p1":0.0002797,"p2":0.0002848}
 ]},
 "mark": {"type": "rect"},
 "encoding": {
  "x": {"field": "t1", "type": "temporal", "title": null},
  "x2": {"field": "t2"},
  "y": {"field": "p1", "type": "quantitative", "title": null},
  "y2": {"field": "p2"},
  "color": {"condition": [{"test": "datum.kind == 'level'", "value": "#79c46b"}, {"test": "datum.kind == 'last'", "value": "#26a69a"}, {"test": "datum.kind == 'fast'", "value": "#ef5350"}], "value": "#2196f3"}
 }
},
{
 "data": {"values": [
  {"kind":"level","t":"2020-06-14T17:00Z","p":0.0003886,"txt":"0.0003886"},
  {"kind":"level","t":"2020-06-14T17:00Z","p":0.0003503,"txt":"0.0003503"},
  {"kind":"level","t":"2020-06-14T17:00Z","p":0.0003241,"txt":"0.0003241"},
  {"kind":"last","t":"2020-06-14T17:00Z","p":0.000299,"txt":"0.0002990"},
  {"kind":"last","t":"2020-06-16T06:00Z","p":0.0002916,"txt":"22:32"},
  {"kind":"fast","t":"2020-06-14T17:00Z","p":0.000287,"txt":"0.0002884"},
  {"kind":"slow","t":"2020-06-14T17:00Z","p":0.0002822,"txt":"0.0002858"}
 ]},
 "mark": {"type": "text", "align": "left", "baseline": "middle", "font": "Liberation Sans", "fontSize": 9.5},
 "encoding": {
  "x": {"field": "t", "type": "temporal", "title": null},
  "y": {"field": "p", "type": "quantitative", "title": null},
  "text": {"field": "txt"},
  "color": {"condition": {"test": "datum.kind == 'level'", "value": "#131722"}, "value": "#ffffff"}
 }
}
]
}
